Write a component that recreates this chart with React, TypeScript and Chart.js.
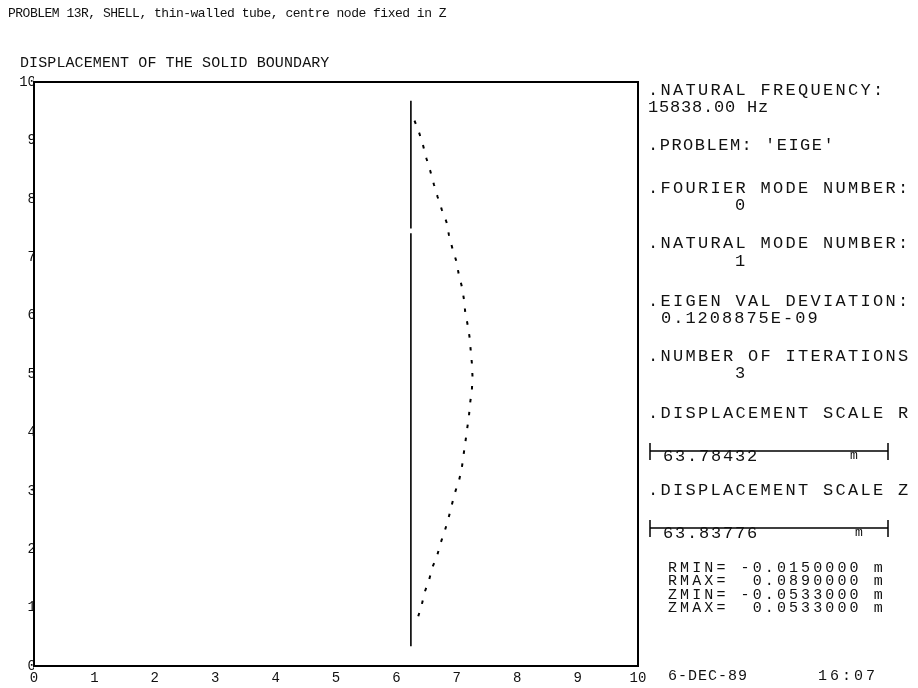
import React, { useEffect, useRef } from "react";
import { Chart, registerables } from "chart.js";

Chart.register(...registerables);

// ---- data ----
const xTickLabels = ["0", "1", "2", "3", "4", "5", "6", "7", "8", "9", "10"];
const yTickLabels = ["0", "1", "2", "3", "4", "5", "6", "7", "8", "9", "10"];

// undeformed solid boundary (R, Z); null = gap
const undeformedR = [6.24, 6.24, null, 6.24, 6.24];
const undeformedZ = [0.34, 7.41, null, 7.49, 9.68];

// displaced boundary (mode shape)
const modeR = [
  6.3, 6.38, 6.44, 6.5, 6.56, 6.62, 6.68, 6.75, 6.83, 6.87, 6.93, 6.99, 7.03, 7.08,
  7.12, 7.14, 7.18, 7.21, 7.23, 7.25, 7.26, 7.25, 7.22, 7.2, 7.17, 7.14, 7.11, 7.08,
  7.04, 6.97, 6.91, 6.86, 6.8, 6.73, 6.67, 6.6, 6.54, 6.47, 6.42, 6.35, 6.32,
];
const modeZ = [
  9.34, 9.12, 8.92, 8.68, 8.48, 8.25, 8.04, 7.82, 7.6, 7.38, 7.14, 6.94, 6.72, 6.51,
  6.27, 6.05, 5.84, 5.64, 5.41, 5.18, 4.95, 4.73, 4.5, 4.27, 4.05, 3.82, 3.6, 3.37,
  3.19, 2.97, 2.73, 2.52, 2.31, 2.1, 1.87, 1.7, 1.47, 1.27, 1.05, 0.81, 0.7,
];

const titleText = "PROBLEM 13R, SHELL, thin-walled tube, centre node fixed in Z";
const subtitleText = "DISPLACEMENT OF THE SOLID BOUNDARY";
const panelLines = [
  ".NATURAL FREQUENCY:",
  "15838.00 Hz",
  ".PROBLEM: 'EIGE'",
  ".FOURIER MODE NUMBER:",
  "0",
  ".NATURAL MODE NUMBER:",
  "1",
  ".EIGEN VAL DEVIATION:",
  "0.1208875E-09",
  ".NUMBER OF ITERATIONS",
  "3",
  ".DISPLACEMENT SCALE R",
  ".DISPLACEMENT SCALE Z",
];
const scaleValues = ["63.78432", "63.83776"];
const scaleUnit = "m";
const rangeLines = [
  "RMIN= -0.0150000 m",
  "RMAX=  0.0890000 m",
  "ZMIN= -0.0533000 m",
  "ZMAX=  0.0533000 m",
];
const dateText = "6-DEC-89";
const timeText = "16:07";

const FONT = "'Liberation Mono', 'DejaVu Sans Mono', monospace";

const textPlugin = {
  id: "plotterText",
  afterDraw(chart: any) {
    const ctx = chart.ctx as CanvasRenderingContext2D;
    const ca = chart.chartArea;
    ctx.save();
    // frame
    ctx.strokeStyle = "#000";
    ctx.lineWidth = 2;
    ctx.strokeRect(ca.left, ca.top, ca.right - ca.left, ca.bottom - ca.top);

    ctx.fillStyle = "#111";
    ctx.textBaseline = "middle";
    ctx.textAlign = "left";
    const put = (t: string, x: number, y: number, size: number, ls: number) => {
      ctx.font = `${size}px ${FONT}`;
      (ctx as any).letterSpacing = `${ls}px`;
      ctx.fillText(t, x, y);
    };
    put(titleText, 8, 14, 13, -0.5);
    put(subtitleText, 20, 63, 15, 0.1);

    const px = 648;
    const pos: [number, number][] = [
      [px, 90], [px, 107], [px, 145], [px, 188], [735, 205], [px, 243], [735, 261],
      [px, 301], [661, 318], [px, 356], [735, 373], [px, 413], [px, 490],
    ];
    const spacing = [2.3, 0.8, 1.5, 2.3, 2.3, 2.3, 2.3, 2.3, 2.0, 2.3, 2.3, 2.3, 2.3];
    panelLines.forEach((t, i) => put(t, pos[i][0], pos[i][1], 17, spacing[i]));

    // scale bars
    const bars = [451, 528];
    bars.forEach((by, i) => {
      ctx.lineWidth = 1.5;
      ctx.beginPath();
      ctx.moveTo(650, by);
      ctx.lineTo(888, by);
      ctx.moveTo(650, by - 8);
      ctx.lineTo(650, by + 9);
      ctx.moveTo(888, by - 8);
      ctx.lineTo(888, by + 9);
      ctx.stroke();
      put(scaleValues[i], 663, by + 5, 17, 1.8);
      put(scaleUnit, 850 + i * 5, by + 5, 13, 0);
    });

    rangeLines.forEach((t, i) => put(t, 668, 568 + i * 13.5, 15, 3.1));
    put(dateText, 668, 676, 15, 1.0);
    put(timeText, 818, 676, 15, 3.0);
    ctx.restore();
  },
};

export default function App() {
  const ref = useRef<HTMLCanvasElement>(null);
  useEffect(() => {
    if (!ref.current) return;
    const undeformed = undeformedR.map((r, i) => ({ x: r, y: undeformedZ[i] }));
    const mode = modeR.map((r, i) => ({ x: r, y: modeZ[i] }));
    const tickFont = { family: FONT, size: 14 };
    const chart = new Chart(ref.current, {
      type: "scatter",
      data: {
        datasets: [
          {
            data: undeformed as any,
            showLine: true,
            spanGaps: false,
            borderColor: "#000",
            borderWidth: 1.6,
            pointRadius: 0,
          },
          {
            data: mode,
            showLine: true,
            borderColor: "#000",
            borderWidth: 2,
            borderDash: [3.5, 9.5],
            pointRadius: 0,
            tension: 0,
          },
        ],
      },
      options: {
        responsive: false,
        animation: false,
        devicePixelRatio: 1,
        layout: { padding: { top: 82, left: 0, right: 280, bottom: 0 } },
        plugins: { legend: { display: false }, tooltip: { enabled: false } },
        scales: {
          x: {
            type: "linear",
            min: 0,
            max: 10,
            grid: { display: false, drawTicks: false },
            border: { display: true, color: "#000", width: 2 },
            ticks: {
              stepSize: 1,
              autoSkip: false,
              maxRotation: 0,
              padding: 4,
              color: "#111",
              font: tickFont,
              callback: (_v: any, i: number) => xTickLabels[i],
            },
            afterFit: (s: any) => {
              s.height = 22;
            },
          },
          y: {
            type: "linear",
            min: 0,
            max: 10,
            grid: { display: false, drawTicks: false },
            border: { display: true, color: "#000", width: 2 },
            ticks: {
              stepSize: 1,
              autoSkip: false,
              padding: -2,
              color: "#111",
              font: tickFont,
              callback: (_v: any, i: number) => yTickLabels[i],
            },
            afterFit: (s: any) => {
              s.width = 34;
            },
          },
        },
      },
      plugins: [textPlugin],
    });
    return () => chart.destroy();
  }, []);
  return (
    <div style={{ position: "fixed", left: 0, top: 0, width: 918, height: 688, background: "#fff" }}>
      <canvas ref={ref} width={918} height={688} />
    </div>
  );
}
